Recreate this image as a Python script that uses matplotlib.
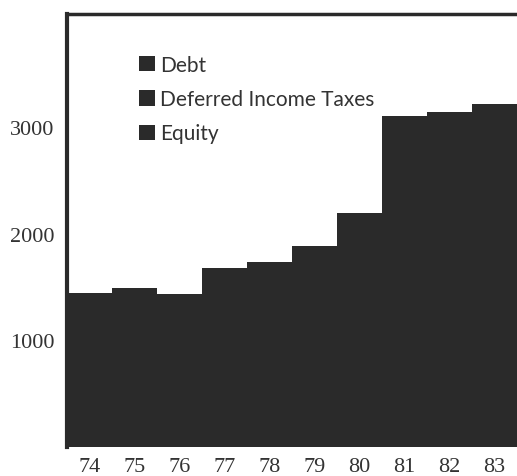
import matplotlib
matplotlib.use("Agg")
import matplotlib.pyplot as plt
import numpy as np

# capitalization by year, $ millions
years = ["74", "75", "76", "77", "78", "79", "80", "81", "82", "83"]
debt = [650, 675, 640, 755, 775, 840, 985, 1390, 1400, 1420]
deferred_taxes = [110, 120, 125, 145, 160, 180, 215, 300, 330, 360]
equity = [680, 695, 670, 775, 795, 860, 990, 1410, 1410, 1435]

labels = ["Debt", "Deferred Income Taxes", "Equity"]
ink = "#2a2a2a"
text_col = "#333333"

fig = plt.figure(figsize=(5.17, 4.77), dpi=100)
ax = fig.add_axes([67 / 517, 1 - 448 / 477, 450 / 517, 433 / 477])

x = np.arange(len(years))
b1 = ax.bar(x, debt, width=1.0, color=ink, linewidth=0)
b2 = ax.bar(x, deferred_taxes, width=1.0, bottom=debt, color=ink, linewidth=0)
base = np.array(debt) + np.array(deferred_taxes)
b3 = ax.bar(x, equity, width=1.0, bottom=base, color=ink, linewidth=0)

ax.set_xlim(-0.5, 9.5)
ax.set_ylim(0, 4060)

ax.set_yticks([1000, 2000, 3000])
ax.set_yticklabels(["1000", "2000", "3000"])
ax.set_xticks(x)
ax.set_xticklabels(years)
ax.tick_params(axis="y", length=0, pad=9, labelsize=16, labelcolor=text_col)
ax.tick_params(axis="x", length=0, pad=7, labelsize=16, labelcolor=text_col)
for lab in ax.get_xticklabels() + ax.get_yticklabels():
    lab.set_fontfamily("Liberation Serif")

for side in ["right", "bottom"]:
    ax.spines[side].set_visible(False)
ax.spines["left"].set_linewidth(3)
ax.spines["top"].set_linewidth(2.5)
ax.spines["left"].set_color(ink)
ax.spines["top"].set_color(ink)

leg = ax.legend([b1, b2, b3], labels, loc="upper left",
                bbox_to_anchor=(0.16, 0.905), frameon=False,
                handlelength=0.75, handleheight=0.75, handletextpad=0.25,
                labelspacing=0.68, borderpad=0, borderaxespad=0,
                prop={"family": "Lato", "size": 15})
for t in leg.get_texts():
    t.set_color(text_col)

fig.savefig("out.png", dpi=100)
